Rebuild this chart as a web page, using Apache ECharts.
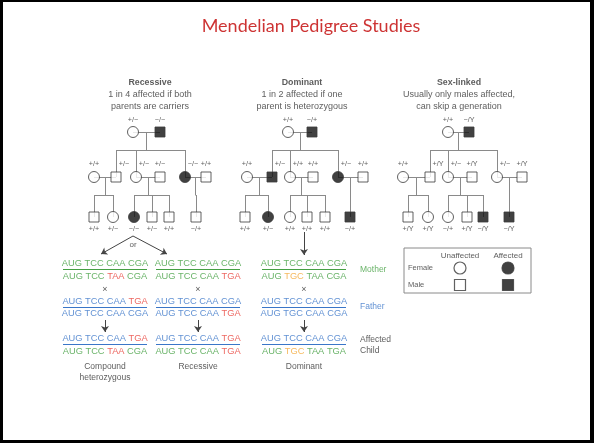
<!DOCTYPE html>
<html><head><meta charset="utf-8">
<script src="https://cdn.jsdelivr.net/npm/echarts@6/dist/echarts.min.js"></script>
<style>html,body{margin:0;padding:0;background:#fff}#c{width:594px;height:443px}</style>
</head><body><div id="c"></div>
<script>
// ---------- DATA ----------
const chartTitle = 'Mendelian Pedigree Studies';
const panelTitles = ['Recessive', 'Dominant', 'Sex-linked'];
const panelSubtitles = [
  ['1 in 4 affected if both', 'parents are carriers'],
  ['1 in 2 affected if one', 'parent is heterozygous'],
  ['Usually only males affected,', 'can skip a generation']
];
// individuals: [x, generation, sex, affected, genotype, isChildOfAbove]
const recessivePeople = [
  [133,0,'F',0,'+/−',0],[160,0,'M',1,'−/−',0],
  [94,1,'F',0,'+/+',0],[116,1,'M',0,'+/−',1],[136,1,'F',0,'+/−',1],[160,1,'M',0,'+/−',0],[185,1,'F',1,'−/−',1],[206,1,'M',0,'+/+',0],
  [94,2,'M',0,'+/+',1],[113,2,'F',0,'+/−',1],[134,2,'F',1,'−/−',1],[152,2,'M',0,'+/−',1],[169,2,'M',0,'+/+',1],[196,2,'M',0,'−/+',1]
];
const dominantPeople = [
  [288,0,'F',0,'+/+',0],[312,0,'M',1,'−/+',0],
  [247,1,'F',0,'+/+',0],[272,1,'M',1,'+/−',1],[290,1,'F',0,'+/+',1],[313,1,'M',0,'+/+',0],[338,1,'F',1,'+/−',1],[363,1,'M',0,'+/+',0],
  [245,2,'M',0,'+/+',1],[268,2,'F',1,'+/−',1],[290,2,'F',0,'+/+',1],[307,2,'M',0,'+/+',1],[325,2,'M',0,'+/+',1],[350,2,'M',1,'−/+',1]
];
const sexLinkedPeople = [
  [448,0,'F',0,'+/+',0],[469,0,'M',1,'−/Y',0],
  [403,1,'F',0,'+/+',0],[430,1,'M',0,'+/Y',1],[448,1,'F',0,'+/−',1],[472,1,'M',0,'+/Y',0],[497,1,'F',0,'+/−',1],[522,1,'M',0,'+/Y',0],
  [408,2,'M',0,'+/Y',1],[428,2,'F',0,'+/Y',1],[448,2,'F',0,'−/+',1],[467,2,'M',0,'+/Y',1],[483,2,'M',1,'−/Y',1],[509,2,'M',1,'−/Y',1]
];
// families: [parentA, parentB, [children]] (indices into the panel's people)
const families = [
  [0,1,[3,4,6]], [2,3,[8,9]], [4,5,[10,11,12]], [6,7,[13]]
];
// DNA sequences
const compoundRows   = ['AUG TCC CAA CGA','AUG TCC TAA CGA','AUG TCC CAA TGA','AUG TCC CAA CGA','AUG TCC CAA TGA','AUG TCC TAA CGA'];
const compoundColors = ['gggg','ggrg','bbbr','bbbb','bbbr','ggrg'];
const recessiveRows   = ['AUG TCC CAA CGA','AUG TCC CAA TGA','AUG TCC CAA CGA','AUG TCC CAA TGA','AUG TCC CAA TGA','AUG TCC CAA TGA'];
const recessiveColors = ['gggg','gggr','bbbb','bbbr','bbbr','gggr'];
const dominantRows   = ['AUG TCC CAA CGA','AUG TGC TAA CGA','AUG TCC CAA CGA','AUG TGC CAA CGA','AUG TCC CAA CGA','AUG TGC TAA TGA'];
const dominantColors = ['gggg','gogg','bbbb','bbbb','bbbb','gogg'];
const underlineColors = ['g','b','b'];
const blockLabels = ['Compound\nheterozygous', 'Recessive', 'Dominant'];
const roleLabels = ['Mother', 'Father', 'Affected\nChild'];
const legendCols = ['Unaffected', 'Affected'];
const legendRows = ['Female', 'Male'];

// ---------- LAYOUT / STYLE ----------
const C = {g:'#45a043', b:'#3a76c8', r:'#e8413a', o:'#f4a736'};
const TXT = '#333';
const FONT = '"Liberation Sans", Arial, sans-serif';
const genY = [132, 177, 217];
const sibY = [150, 195];
const panelX = [150, 302, 459];
const blockX = [105, 198, 304];
const rowY = [263, 276, 301, 313, 338, 351];
const ulY = [269.5, 307, 344.5];
const halfW = 42;

const symbolData = [], labelData = [], lineData = [], arrowData = [];
const dnaLinesG = [], dnaLinesB = [];

function addPanel(people) {
  people.forEach(p => {
    const [x, g, sex, aff, gt, child] = p;
    symbolData.push({
      value: [x, genY[g]],
      symbol: sex === 'F' ? 'circle' : 'rect',
      symbolSize: sex === 'F' ? 11 : 10,
      itemStyle: {color: aff ? '#111' : '#fff', borderColor: '#3a3a3a', borderWidth: 1}
    });
    let lx = x, ly;
    if (g === 0) ly = genY[0] - 12;
    else if (g === 1) { ly = genY[1] - 13; if (child) lx = x + 8; }
    else ly = genY[2] + 12;
    labelData.push({value: [lx, ly], label: {formatter: gt, fontSize: 7.2, color: TXT}});
  });
  families.forEach(f => {
    const a = people[f[0]], b = people[f[1]];
    const y0 = genY[a[1]];
    const mid = (a[0] + b[0]) / 2;
    const kids = f[2].map(i => people[i]);
    const sy = sibY[a[1]];
    lineData.push({coords: [[a[0], y0], [b[0], y0]]});
    lineData.push({coords: [[mid, y0], [mid, sy]]});
    const xs = kids.map(k => k[0]).concat([mid]);
    lineData.push({coords: [[Math.min(...xs), sy], [Math.max(...xs), sy]]});
    kids.forEach(k => lineData.push({coords: [[k[0], sy], [k[0], genY[k[1]]]]}));
  });
}
addPanel(recessivePeople);
addPanel(dominantPeople);
addPanel(sexLinkedPeople);

// panel titles
panelTitles.forEach((t, i) => {
  labelData.push({value: [panelX[i], 83], label: {formatter: t, fontSize: 8.8, fontWeight: 'bold', color: TXT}});
  panelSubtitles[i].forEach((s, j) => labelData.push({value: [panelX[i], 95 + j * 11.5], label: {formatter: s, fontSize: 9, color: TXT}}));
});

// DNA blocks
const rich = {};
Object.keys(C).forEach(k => rich[k] = {color: C[k], fontSize: 9.3, fontFamily: FONT});
const blocks = [[compoundRows, compoundColors], [recessiveRows, recessiveColors], [dominantRows, dominantColors]];
blocks.forEach((b, bi) => {
  const [rows, cols] = b;
  rows.forEach((r, ri) => {
    const parts = r.split(' ');
    const fmt = parts.map((p, k) => '{' + cols[ri][k] + '|' + p + '}').join('{' + cols[ri][0] + '| }');
    labelData.push({value: [blockX[bi], rowY[ri]], label: {formatter: fmt, rich: rich}});
  });
  ulY.forEach((y, k) => (underlineColors[k] === 'g' ? dnaLinesG : dnaLinesB).push({coords: [[blockX[bi] - halfW, y], [blockX[bi] + halfW, y]]}));
  labelData.push({value: [blockX[bi], 290], label: {formatter: '×', fontSize: 9, color: TXT}});
  arrowData.push({coords: [[blockX[bi], 320], [blockX[bi], 332]]});
  labelData.push({value: [blockX[bi], bi === 0 ? 372 : 367], label: {formatter: blockLabels[bi], fontSize: 8.5, color: TXT, lineHeight: 11}});
});
// "or" arrows and dominant arrow
arrowData.push({coords: [[133, 236], [101, 254]]});
arrowData.push({coords: [[133, 236], [167, 254]]});
arrowData.push({coords: [[304, 232], [304, 255]]});
labelData.push({value: [133, 245], label: {formatter: 'or', fontSize: 8, color: TXT}});
// role labels
labelData.push({value: [360, 270], label: {formatter: roleLabels[0], fontSize: 8.5, color: C.g, align: 'left'}});
labelData.push({value: [360, 307], label: {formatter: roleLabels[1], fontSize: 8.5, color: C.b, align: 'left'}});
labelData.push({value: [360, 345], label: {formatter: roleLabels[2], fontSize: 8.5, color: TXT, align: 'left', lineHeight: 11}});

// legend box
const legendBox = [[404, 248], [531, 248], [531, 293], [404, 293], [404, 248]];
legendCols.forEach((t, i) => labelData.push({value: [[460, 508][i], 256], label: {formatter: t, fontSize: 8, color: TXT}}));
legendRows.forEach((t, i) => labelData.push({value: [408, [268, 285][i]], label: {formatter: t, fontSize: 7.5, color: TXT, align: 'left'}}));
[[460,268,'circle',0],[508,268,'circle',1],[460,285,'rect',0],[508,285,'rect',1]].forEach(s => {
  symbolData.push({value: [s[0], s[1]], symbol: s[2], symbolSize: s[2] === 'circle' ? 12 : 11,
    itemStyle: {color: s[3] ? '#111' : '#fff', borderColor: '#3a3a3a', borderWidth: 1.2}});
});

// title
labelData.push({value: [311, 26], label: {formatter: chartTitle, fontSize: 18, color: '#c00000', fontFamily: 'Lato, "Open Sans", sans-serif'}});

const chart = echarts.init(document.getElementById('c'), null, {renderer: 'canvas'});
chart.setOption({
  animation: false,
  backgroundColor: '#fff',
  grid: {left: 0, right: 0, top: 0, bottom: 0},
  xAxis: {type: 'value', min: 0, max: 594, show: false},
  yAxis: {type: 'value', min: 0, max: 443, inverse: true, show: false},
  graphic: [
    {type: 'rect', shape: {x: 0, y: 0, width: 594, height: 2}, style: {fill: '#000'}},
    {type: 'rect', shape: {x: 0, y: 0, width: 3, height: 443}, style: {fill: '#000'}},
    {type: 'rect', shape: {x: 590, y: 0, width: 4, height: 443}, style: {fill: '#000'}},
    {type: 'rect', shape: {x: 0, y: 440, width: 594, height: 3}, style: {fill: '#000'}}
  ],
  series: [
    {type: 'lines', coordinateSystem: 'cartesian2d', z: 1, silent: true,
     lineStyle: {color: '#8a8a8a', width: 1, opacity: 1}, data: lineData},
    {type: 'lines', coordinateSystem: 'cartesian2d', z: 1, silent: true,
     lineStyle: {color: C.g, width: 1, opacity: 1}, data: dnaLinesG},
    {type: 'lines', coordinateSystem: 'cartesian2d', z: 1, silent: true,
     lineStyle: {color: C.b, width: 1, opacity: 1}, data: dnaLinesB},
    {type: 'lines', coordinateSystem: 'cartesian2d', z: 1, silent: true, polyline: true,
     lineStyle: {color: '#8a8a8a', width: 1, opacity: 1}, data: [{coords: legendBox}]},
    {type: 'lines', coordinateSystem: 'cartesian2d', z: 2, silent: true,
     symbol: ['none', 'arrow'], symbolSize: 6,
     lineStyle: {color: '#444', width: 1, opacity: 1}, data: arrowData},
    {type: 'scatter', z: 3, silent: true, data: symbolData},
    {type: 'scatter', z: 4, silent: true, symbol: 'circle', symbolSize: 1,
     itemStyle: {color: 'rgba(0,0,0,0)'}, data: labelData,
     label: {show: true, position: 'inside', fontFamily: FONT, color: TXT}}
  ]
});
</script></body></html>
